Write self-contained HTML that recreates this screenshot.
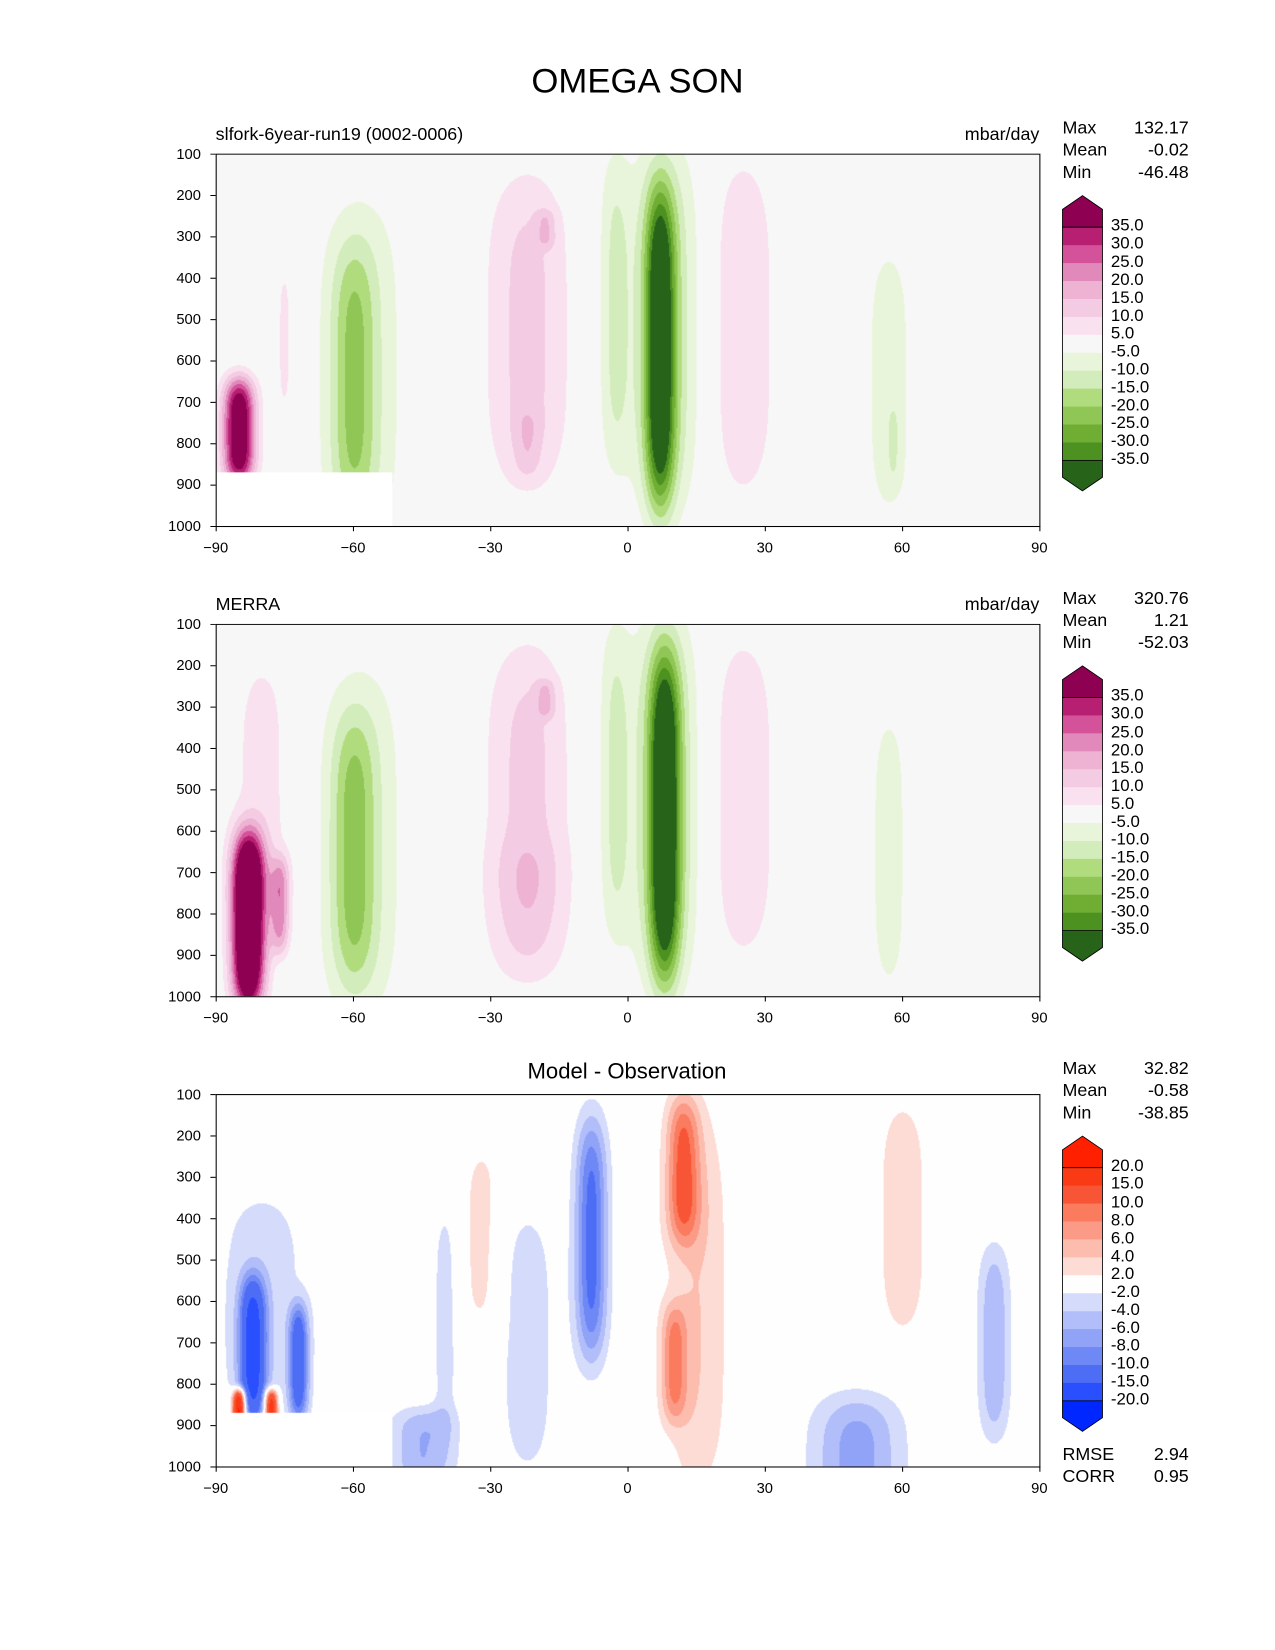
<!DOCTYPE html>
<html><head><meta charset="utf-8"><style>
body{margin:0;background:#fff;font-family:"Liberation Sans",sans-serif;}
#outer{position:relative;width:1275px;height:1650px;overflow:hidden;background:#fff;}
#root{position:absolute;left:0;top:0;width:1212px;height:1569px;transform:scale(1.05198);transform-origin:0 0;background:#fff;}
.t{position:absolute;white-space:nowrap;color:#000;}
canvas{position:absolute;}
</style></head><body>
<div id="outer">
<div id="root">
<div class="t" style="left:0;width:1212px;text-align:center;top:58px;font-size:33px;">OMEGA SON</div>
</div></div>
<script>
// ---- data arrays (blob features of each field: lat, pressure, amplitude, widths) ----
const p1Lat=[7,8,-3,-60,-58,-22,-18,-22,25,57,58,-85,-75];
const p1Pres=[570,520,480,650,620,530,280,800,520,650,800,770,550];
const p1Amp=[-38,-14,-10,-15,-8,12,8,6,10,-7,-5,45,6];
const p1LatW=[2.2,5.5,2.5,3.5,7,6.5,1.5,2,5,4.5,1,2.5,2];
const p1PresW=[320,380,330,280,380,330,40,70,350,320,80,110,200];

const p2Lat=[8,8,-3,-60,-58,-22,-18,25,57,-83,-76,-80,80,-22];
const p2Pres=[570,520,480,650,620,530,280,520,650,820,780,500,800,800];
const p2Amp=[-40,-14,-10,-16,-8,12,9,10,-8,60,20,7,5,5];
const p2LatW=[2.3,5.5,2.5,3.5,7,6.5,1.5,5,3,2.5,1.5,5,1.5,6];
const p2PresW=[330,380,330,280,380,330,40,330,300,180,100,300,200,150];

const p3Lat=[-8,12,10,15,-82,-72,-80,-85,-78,50,60,-32,-45,-40,80,-22];
const p3Pres=[450,280,750,600,720,750,600,860,860,1000,400,450,950,650,700,700];
const p3Amp=[-11,9,7,4,-16,-12,-3,25,20,-7,3.5,3,-6,-3,-6,-3];
const p3LatW=[2.5,2.5,2,5,2,1.5,8,1,1,7,4,3,5,2,2.5,5];
const p3PresW=[250,150,120,400,150,120,250,40,40,150,250,200,80,250,200,300];

const greenLevels=[-35,-30,-25,-20,-15,-10,-5,5,10,15,20,25,30,35];
const greenColors=['#276419','#4d9221','#6fae33','#8fc656','#b1dc7e','#d2ecbb','#e9f5da','#f7f7f7','#f9e1ef','#f3cbe3','#eeb2d3','#e289bb','#d3529a','#b71f72','#8e0152'];
const diffLevels=[-20,-15,-10,-8,-6,-4,-2,2,4,6,8,10,15,20];
const diffColors=['#0027ff','#2a4fff','#4d6df5','#6e88f5','#90a3f7','#b2bef9','#d5dcfb','#fefefe','#fddcd5','#fcbcae','#fb9b87','#fa7b5e','#f85536','#fa3a15','#ff2000'];
const panels=[
 {top:146,lat:p1Lat,pres:p1Pres,amp:p1Amp,lw:p1LatW,pw:p1PresW,lev:greenLevels,col:greenColors,mask:true,label:'slfork-6year-run19 (0002-0006)',units:'mbar/day',stats:[['Max','132.17'],['Mean','-0.02'],['Min','-46.48']]},
 {top:593,lat:p2Lat,pres:p2Pres,amp:p2Amp,lw:p2LatW,pw:p2PresW,lev:greenLevels,col:greenColors,mask:false,label:'MERRA',units:'mbar/day',stats:[['Max','320.76'],['Mean','1.21'],['Min','-52.03']]},
 {top:1040,lat:p3Lat,pres:p3Pres,amp:p3Amp,lw:p3LatW,pw:p3PresW,lev:diffLevels,col:diffColors,mask:true,title:'Model - Observation',stats:[['Max','32.82'],['Mean','-0.58'],['Min','-38.85']],extra:[['RMSE','2.94'],['CORR','0.95']]}
];
const yTicks=[100,200,300,400,500,600,700,800,900,1000];
const xTicks=[-90,-60,-30,0,30,60,90];
const xTickLabels=['\u221290','\u221260','\u221230','0','30','60','90'];
const L=205,R=988,H=354,W=R-L;
const root=document.getElementById('root');
function xs(lat){return L+(lat+90)/180*W;}
function hex(c){return [parseInt(c.substr(1,2),16),parseInt(c.substr(3,2),16),parseInt(c.substr(5,2),16)];}
function txt(x,y,s,size,name,align){
 const d=document.createElement('div');d.className='t';
 
 
 d.textContent=s;d.style.fontSize=size+'px';d.style.top=(y-size*0.6)+'px';
 if(align==='right'){d.style.right=(1212-x)+'px';}else if(align==='center'){d.style.left=(x-200)+'px';d.style.width='400px';d.style.textAlign='center';}else d.style.left=x+'px';
 root.appendChild(d);return d;}
panels.forEach((P,pi)=>{
 const cv=document.createElement('canvas');cv.width=W;cv.height=H;
 cv.style.left=L+'px';cv.style.top=P.top+'px';
 
 
 root.appendChild(cv);
 const ctx=cv.getContext('2d');const img=ctx.createImageData(W,H);
 const rgb=P.col.map(hex);
 for(let j=0;j<H;j++){const p=100+j/H*900;
  for(let i=0;i<W;i++){const lat=-90+i/W*180;let v=0;
   for(let k=0;k<P.amp.length;k++){const a=(lat-P.lat[k])/P.lw[k],b=(p-P.pres[k])/P.pw[k];const b2=b*b;v+=P.amp[k]*Math.exp(-0.5*(a*a+b2*b2));}
   let c;
   if(P.mask&&lat<-51.5&&p>870)c=[255,255,255];
   else{let idx=0;while(idx<P.lev.length&&v>P.lev[idx])idx++;c=rgb[idx];}
   const o=(j*W+i)*4;img.data[o]=c[0];img.data[o+1]=c[1];img.data[o+2]=c[2];img.data[o+3]=255;}}
 ctx.putImageData(img,0,0);
 const ns='http://www.w3.org/2000/svg';
 const svg=document.createElementNS(ns,'svg');
 svg.setAttribute('width',1212);svg.setAttribute('height',H+40);
 svg.style.position='absolute';svg.style.left='0';svg.style.top=P.top+'px';
 
 
 const r=document.createElementNS(ns,'rect');r.setAttribute('x',L+0.5);r.setAttribute('y',0.5);r.setAttribute('width',W);r.setAttribute('height',H);r.setAttribute('fill','none');r.setAttribute('stroke','#000');
 
 
 svg.appendChild(r);
 yTicks.forEach(t=>{const y=(t-100)/900*H;const l=document.createElementNS(ns,'line');l.setAttribute('x1',L-5);l.setAttribute('x2',L);l.setAttribute('y1',y+0.5);l.setAttribute('y2',y+0.5);l.setAttribute('stroke','#000');
  
  
  svg.appendChild(l);
  txt(191,P.top+y,String(t),14,'y-tick-label','right');});
 xTicks.forEach((t,k)=>{const x=xs(t);const l=document.createElementNS(ns,'line');l.setAttribute('x1',x+0.5);l.setAttribute('x2',x+0.5);l.setAttribute('y1',H);l.setAttribute('y2',H+5);l.setAttribute('stroke','#000');
  
  
  svg.appendChild(l);
  txt(x,P.top+H+20,xTickLabels[k],14,'x-tick-label','center');});
 const cbx=1010,cbw=38,cbTop=P.top+40,body0=P.top+70,seg=17.05,n=P.lev.length-1,body1=body0+n*seg;
 const g=document.createElementNS(ns,'g');
 
 
 const tri=(pts,c)=>{const pg=document.createElementNS(ns,'polygon');pg.setAttribute('points',pts);pg.setAttribute('fill',c);pg.setAttribute('stroke','#000');pg.setAttribute('stroke-width','0.8');
  
  
  g.appendChild(pg);};
 const cb=cbTop-P.top,b0=body0-P.top,b1=body1-P.top;
 tri(`${cbx},${b0} ${cbx},${cb+13} ${cbx+cbw/2},${cb} ${cbx+cbw},${cb+13} ${cbx+cbw},${b0}`,P.col[P.col.length-1]);
 tri(`${cbx},${b1} ${cbx},${b1+16} ${cbx+cbw/2},${b1+29} ${cbx+cbw},${b1+16} ${cbx+cbw},${b1}`,P.col[0]);
 for(let k=0;k<n;k++){const rr=document.createElementNS(ns,'rect');rr.setAttribute('x',cbx);rr.setAttribute('y',b0+k*seg);rr.setAttribute('width',cbw);rr.setAttribute('height',seg+0.5);rr.setAttribute('fill',P.col[P.col.length-2-k]);
  
  
  g.appendChild(rr);}
 const fr=document.createElementNS(ns,'rect');fr.setAttribute('x',cbx);fr.setAttribute('y',b0);fr.setAttribute('width',cbw);fr.setAttribute('height',n*seg);fr.setAttribute('fill','none');fr.setAttribute('stroke','#000');fr.setAttribute('stroke-width','0.8');
 
 
 g.appendChild(fr);
 svg.appendChild(g);
 root.appendChild(svg);
 for(let k=0;k<=n;k++){const v=P.lev[n-k];txt(1056,body0+k*seg,v.toFixed(1),16,'colorbar-label','left');}
 if(P.label)txt(205,P.top-18,P.label,17,'panel-label','left');
 if(P.units)txt(988,P.top-18,P.units,17,'units-label','right');
 if(P.title)txt(596,P.top-20,P.title,21,'panel-title','center');
 P.stats.forEach((s,k)=>{txt(1010,P.top-24+k*21,s[0],17,'stat-name','left');txt(1130,P.top-24+k*21,s[1],17,'stat-value','right');});
 if(P.extra)P.extra.forEach((s,k)=>{txt(1010,P.top+343+k*21,s[0],17,'metric-name','left');txt(1130,P.top+343+k*21,s[1],17,'metric-value','right');});
});
</script>
</body></html>
